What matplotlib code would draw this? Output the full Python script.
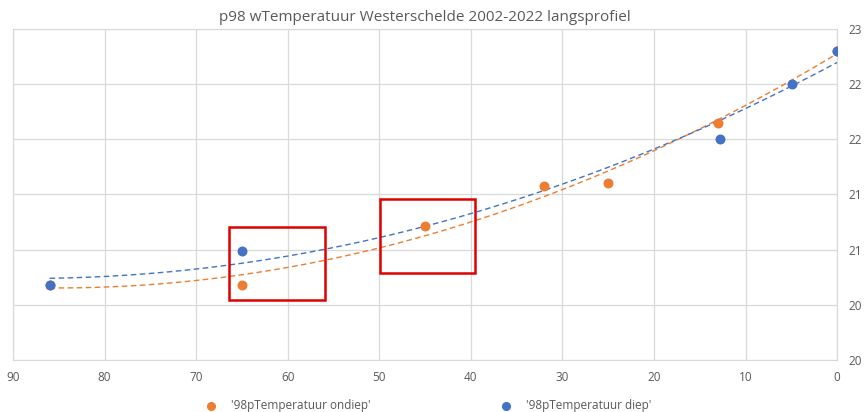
import matplotlib.pyplot as plt
import numpy as np
from matplotlib.patches import Rectangle

plt.rcParams['font.family'] = ['Open Sans', 'DejaVu Sans']

# Data (distance along profile, p98 water temperature)
# the first ondiep point sits under the diep point at 86
x_ondiep = [86, 65, 45, 32, 25, 13, 0]
y_ondiep = [20.68, 20.68, 21.21, 21.58, 21.60, 22.15, 22.80]
x_diep = [86, 65, 12.8, 4.9, 0]
y_diep = [20.68, 20.99, 22.00, 22.50, 22.80]

y_ticks = [20, 20.5, 21, 21.5, 22, 22.5, 23]
y_tick_labels = ['20', '20', '21', '21', '22', '22', '23']

orange = '#ED7D31'
blue = '#4472C4'
grey = '#595959'

fig = plt.figure(figsize=(8.64, 4.12), dpi=100)
ax = fig.add_axes([0.015, 0.126, 0.954, 0.804])

# polynomial (order 2) trendlines, like the spreadsheet
for xs, ys, c in [(x_ondiep, y_ondiep, orange), (x_diep, y_diep, blue)]:
    coef = np.polyfit(xs, ys, 2)
    xx = np.linspace(max(xs), min(xs), 200)
    ax.plot(xx, np.polyval(coef, xx), '--', color=c, lw=1.0, dashes=(4, 2.5), zorder=2)

ax.scatter(x_ondiep, y_ondiep, s=38, color=orange, zorder=3, label="'98pTemperatuur ondiep'")
ax.scatter(x_diep, y_diep, s=38, color=blue, zorder=4, label="'98pTemperatuur diep'")

# red boxes
ax.add_patch(Rectangle((55.9, 20.54), 10.5, 0.665, fill=False, ec='#E00000', lw=1.8, zorder=5))
ax.add_patch(Rectangle((39.6, 20.79), 10.3, 0.67, fill=False, ec='#E00000', lw=1.8, zorder=5))

ax.set_xlim(90, 0)
ax.set_ylim(20, 23)
ax.set_xticks(range(90, -1, -10))
ax.set_yticks(y_ticks)
ax.set_yticklabels(y_tick_labels)
ax.yaxis.tick_right()
ax.grid(True, color='#D9D9D9', lw=0.9)
ax.set_axisbelow(True)
for s in ax.spines.values():
    s.set_color('#D9D9D9')
ax.tick_params(length=0, colors=grey, labelsize=8.5)
ax.tick_params(axis='x', pad=8)
ax.tick_params(axis='y', pad=8)

ax.set_title('p98 wTemperatuur Westerschelde 2002-2022 langsprofiel', color=grey, fontsize=11, pad=6)

ax.legend(loc='upper center', bbox_to_anchor=(0.5, -0.085), ncol=2, frameon=False,
          fontsize=8.5, labelcolor=grey, columnspacing=10.5, handletextpad=0.7,
          markerscale=0.9)

plt.savefig('out.png', dpi=100)
